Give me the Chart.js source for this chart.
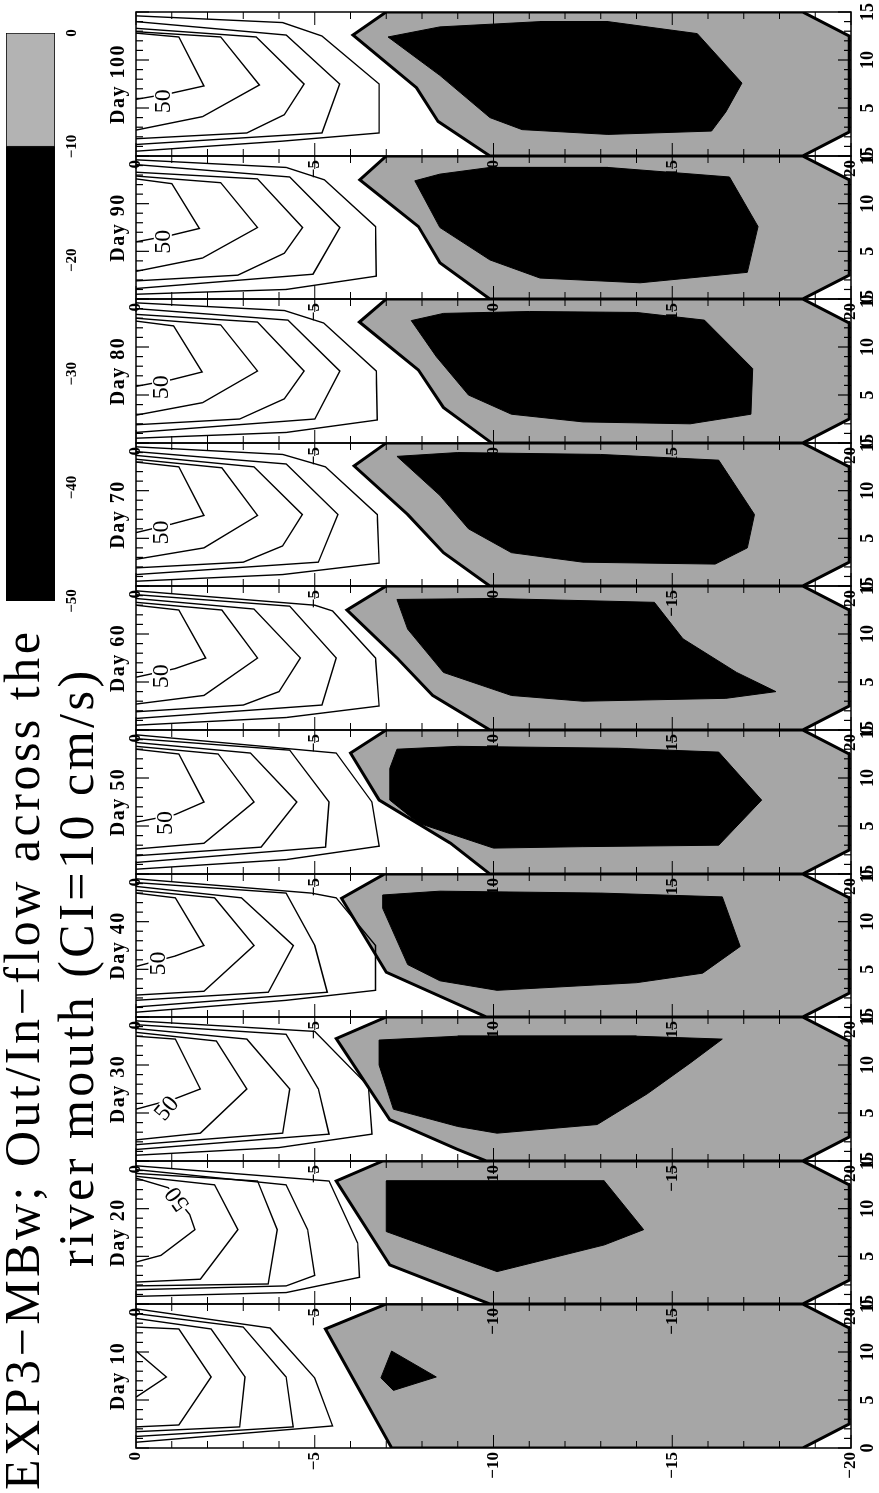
<!DOCTYPE html>
<html>
<head>
<meta charset="utf-8">
<title>EXP3-MBw out/in-flow across the river mouth</title>
<script src="https://cdn.jsdelivr.net/npm/chart.js@4.4.1/dist/chart.umd.min.js"></script>
<style>
  html, body { margin: 0; padding: 0; background: #fff; overflow: hidden; }
  /* the figure is built upright (1493 x 879) and then turned a quarter left */
  #page { position: absolute; left: 0; top: 0; width: 1493px; height: 879px;
          transform-origin: 0 0; transform: translateY(1493px) rotate(-90deg); }
  #page canvas { position: absolute; }
  .title { position: absolute; font-family: 'Liberation Serif', serif; font-size: 50px;
           line-height: 50px; white-space: nowrap; letter-spacing: 3.5px; color: #000; }
</style>
</head>
<body>
<div id="page">
  <div class="title" style="left:3px; top:-3px">EXP3−MBw; Out/In−flow across the</div>
  <div class="title" style="left:226px; top:51px">river mouth (CI=10 cm/s)</div>
  <canvas id="cbar" width="600" height="90" style="left:880px; top:0px"></canvas>
</div>
<script>
// ---- data: points are [cross-channel distance, depth] ----
const days = ['Day 10', 'Day 20', 'Day 30', 'Day 40', 'Day 50', 'Day 60', 'Day 70', 'Day 80', 'Day 90', 'Day 100'];
const crossTicks = [0, 1, 2, 3, 4, 5, 6, 7, 8, 9, 10, 11, 12, 13, 14, 15];
const depthTicks = [0, -1, -2, -3, -4, -5, -6, -7, -8, -9, -10, -11, -12, -13, -14, -15, -16, -17, -18, -19, -20];
const crossLabels = [0, 5, 10, 15];
const depthLabels = [0, -5, -10, -15, -20];
const colorbarTicks = [0, -10, -20, -30, -40, -50];
const colorbarBands = [[-50, -10], [-10, 0]];

// channel bottom (thick line, land below it)
const channelBottom = [[0, -18.65], [2.5, -19.95], [12.5, -19.95], [15, -18.65]];

// zero contour, -10 cm/s area, outflow contours 10..50 (innermost first), "50" label [x, depth, angle]
const zero10 = [[15, -7.0], [12.4, -5.3], [0, -7.15]];
const inflow10 = [[10.1, -7.15], [7.4, -8.4], [6.0, -7.2], [7.3, -6.85]];
const contours10 = [
  [[10.1, 0], [7.4, -0.85], [5.3, 0]],
  [[12.6, 0], [12.4, -1.2], [7.4, -2.1], [2.4, -1.2], [2.2, 0]],
  [[13.5, 0], [12.4, -2.1], [7.4, -3.05], [2.2, -2.9], [1.7, 0]],
  [[14.0, 0], [12.6, -3.0], [7.4, -4.2], [2.2, -4.4], [1.2, 0]],
  [[14.5, 0], [12.5, -3.75], [7.3, -5.0], [2.3, -5.5], [0.6, 0]]
];
const label10 = null;

const zero20 = [[15, -6.9], [12.9, -5.6], [4.1, -7.1], [0, -9.9]];
const inflow20 = [[12.9, -7.0], [12.9, -13.1], [7.8, -14.2], [6.2, -13.1], [3.4, -10.1], [7.6, -7.0]];
const contours20 = [
  [[13.2, 0], [12.2, -0.9], [9.4, -1.5], [7.8, -1.65], [5.1, -0.7], [4.4, 0]],
  [[13.4, 0], [12.5, -2.2], [7.8, -2.85], [2.6, -1.8], [2.3, 0]],
  [[13.7, 0], [12.9, -3.4], [7.8, -3.95], [2.1, -3.7], [1.9, 0]],
  [[14.1, 0], [12.5, -4.2], [7.8, -4.8], [3.0, -5.0], [1.9, -4.2], [1.5, 0]],
  [[14.5, 0], [12.9, -5.4], [6.4, -6.2], [2.8, -6.25], [1.2, -4.2], [0.8, 0]]
];
const label20 = [11.0, -1.15, -35];

const zero30 = [[15, -7.0], [12.75, -5.6], [4.3, -7.1], [1.2, -9.0], [0, -9.8]];
const inflow30 = [[12.6, -6.8], [13.0, -9.0], [13.0, -14.0], [12.7, -16.4], [10.2, -15.5], [7.0, -14.3], [3.8, -12.9], [2.9, -10.1], [3.6, -9.0], [5.4, -7.2], [10.0, -6.8]];
const contours30 = [
  [[13.0, 0], [12.7, -1.1], [7.5, -1.8], [6.5, -1.1], [5.4, 0]],
  [[13.4, 0], [12.5, -2.25], [7.5, -3.1], [2.9, -1.8], [2.2, 0]],
  [[13.8, 0], [12.7, -3.1], [7.5, -4.3], [2.9, -4.1], [1.7, 0]],
  [[14.2, 0], [13.2, -4.2], [7.5, -5.1], [2.8, -5.4], [1.2, 0]],
  [[14.6, 0], [13.5, -5.0], [7.8, -6.5], [2.8, -6.6], [1.4, -4.0], [0.6, 0]]
];
const label30 = [5.5, -0.85, 40];

const zero40 = [[15, -6.95], [12.45, -5.75], [4.7, -7.0], [0, -9.8]];
const inflow40 = [[12.8, -6.9], [13.2, -8.5], [13.0, -13.0], [12.6, -16.4], [7.4, -16.9], [4.6, -15.85], [3.6, -14.0], [2.8, -10.1], [3.8, -8.5], [5.5, -7.6], [11.4, -6.9]];
const contours40 = [
  [[13.0, 0], [12.5, -1.1], [7.5, -1.9], [6.4, -1.1], [5.3, 0]],
  [[13.3, 0], [12.5, -2.2], [7.5, -3.3], [2.7, -1.9], [2.3, 0]],
  [[13.7, 0], [12.5, -2.95], [7.5, -4.4], [2.6, -3.7], [1.75, 0]],
  [[14.1, 0], [13.0, -4.2], [7.5, -5.0], [2.6, -5.35], [1.05, 0]],
  [[14.5, 0], [13.0, -4.9], [12.5, -5.6], [7.5, -6.7], [2.8, -6.7], [1.75, -4.2], [0.5, 0]]
];
const label40 = [5.6, -0.6, 0];

const zero50 = [[15, -7.0], [12.6, -6.0], [7.7, -6.8], [3.2, -8.8], [0, -9.9]];
const inflow50 = [[13.0, -7.3], [13.3, -9.0], [13.1, -13.5], [12.7, -16.3], [7.7, -17.5], [3.0, -16.3], [2.85, -12.5], [2.7, -10.0], [5.3, -7.9], [7.7, -7.1], [11.0, -7.1]];
const contours50 = [
  [[13.0, 0], [12.5, -1.2], [7.5, -1.9], [6.2, -1.1], [5.4, 0]],
  [[13.3, 0], [12.5, -2.3], [7.5, -3.3], [3.2, -1.9], [2.6, 0]],
  [[13.7, 0], [12.6, -3.2], [7.5, -4.5], [2.8, -3.5], [1.9, 0]],
  [[14.1, 0], [12.9, -4.3], [7.5, -5.4], [2.8, -5.3], [1.2, 0]],
  [[14.5, 0], [12.6, -5.6], [7.5, -6.6], [2.9, -6.8], [1.5, -4.2], [0.5, 0]]
];
const label50 = [5.3, -0.8, 0];

const zero60 = [[15, -7.0], [12.5, -5.9], [7.5, -7.3], [3.6, -8.3], [0, -9.9]];
const inflow60 = [[13.6, -7.3], [13.7, -10.0], [13.3, -14.5], [9.5, -15.3], [6.0, -16.8], [4.0, -17.9], [3.3, -16.5], [3.0, -12.5], [3.6, -10.5], [6.0, -8.6], [10.5, -7.6]];
const contours60 = [
  [[13.0, 0], [12.5, -1.2], [7.5, -1.95], [6.4, -1.1], [5.5, 0]],
  [[13.3, 0], [12.5, -2.4], [7.5, -3.4], [3.6, -1.9], [2.7, 0]],
  [[13.7, 0], [12.6, -3.3], [7.5, -4.6], [4.0, -4.0], [2.6, -3.0], [1.9, 0]],
  [[14.1, 0], [12.9, -4.3], [7.5, -5.6], [2.6, -5.2], [1.2, 0]],
  [[14.5, 0], [13.0, -5.0], [12.4, -5.5], [7.5, -6.7], [2.5, -6.8], [1.3, -4.2], [0.5, 0]]
];
const label60 = [5.6, -0.7, 0];

const zero70 = [[15, -7.0], [12.6, -6.1], [7.5, -7.6], [3.5, -8.6], [0, -9.9]];
const inflow70 = [[13.6, -7.3], [14.0, -9.0], [13.8, -13.0], [13.2, -16.3], [7.5, -17.3], [4.0, -17.1], [2.3, -16.2], [2.5, -12.5], [3.5, -10.5], [6.0, -9.3], [9.5, -8.5]];
const contours70 = [
  [[13.0, 0], [12.5, -1.2], [7.4, -1.9], [6.5, -1.0], [5.6, 0]],
  [[13.3, 0], [12.4, -2.4], [7.4, -3.4], [4.0, -1.9], [2.8, 0]],
  [[13.7, 0], [12.5, -3.3], [7.5, -4.65], [4.2, -4.1], [2.5, -3.0], [1.9, 0]],
  [[14.1, 0], [12.8, -4.2], [7.5, -5.65], [2.5, -5.1], [1.2, 0]],
  [[14.6, 0], [13.8, -4.1], [12.5, -5.3], [7.5, -6.75], [2.4, -6.8], [1.2, -4.1], [0.5, 0]]
];
const label70 = [5.6, -0.7, 0];

const zero80 = [[15, -7.0], [12.6, -6.25], [7.6, -7.9], [3.7, -8.6], [0, -9.95]];
const inflow80 = [[12.75, -7.7], [13.5, -8.6], [13.7, -11.0], [13.6, -14.0], [12.8, -15.9], [7.75, -17.25], [3.0, -17.2], [2.0, -15.5], [2.2, -12.5], [3.0, -10.5], [5.0, -9.3], [9.0, -8.4]];
const contours80 = [
  [[12.7, 0], [12.2, -1.05], [7.4, -1.85], [6.6, -1.0], [5.9, 0]],
  [[13.0, 0], [12.3, -2.37], [7.5, -3.4], [4.2, -1.86], [2.9, 0]],
  [[13.4, 0], [12.6, -3.4], [7.5, -4.7], [4.6, -4.15], [2.5, -2.9], [1.9, 0]],
  [[14.0, 0], [12.8, -4.25], [7.5, -5.7], [2.5, -5.0], [1.1, 0]],
  [[14.6, 0], [13.8, -4.15], [12.5, -5.25], [7.5, -6.72], [2.4, -6.75], [1.1, -4.2], [0.5, 0]]
];
const label80 = [5.8, -0.7, 0];

const zero90 = [[15, -7.0], [12.5, -6.26], [7.6, -7.9], [3.8, -8.5], [0, -9.9]];
const inflow90 = [[12.4, -7.8], [13.1, -8.5], [13.8, -9.9], [13.8, -13.2], [12.8, -16.6], [7.6, -17.4], [2.8, -17.1], [1.7, -14.1], [2.2, -11.3], [4.1, -9.9], [7.5, -8.5]];
const contours90 = [
  [[12.6, 0], [12.1, -1.0], [7.4, -1.77], [6.7, -1.0], [6.0, 0]],
  [[12.9, 0], [12.2, -2.37], [7.5, -3.4], [4.3, -1.86], [2.9, 0]],
  [[13.3, 0], [12.6, -3.4], [7.5, -4.66], [4.8, -4.15], [2.5, -2.85], [1.9, 0]],
  [[14.1, 0], [12.8, -4.3], [7.5, -5.7], [2.6, -4.95], [1.1, 0]],
  [[14.6, 0], [13.8, -4.2], [12.5, -5.27], [7.6, -6.7], [2.4, -6.72], [1.0, -4.2], [0.5, 0]]
];
const label90 = [6.0, -0.75, 0];

const zero100 = [[15, -7.0], [12.6, -6.07], [7.1, -7.85], [3.6, -8.45], [0, -9.9]];
const inflow100 = [[12.4, -7.05], [13.45, -8.5], [14.0, -11.3], [14.0, -13.2], [12.75, -15.7], [7.6, -16.95], [4.6, -16.5], [2.6, -16.1], [2.25, -13.2], [2.75, -10.8], [4.0, -9.9], [8.4, -8.5]];
const contours100 = [
  [[12.8, 0], [12.4, -1.2], [7.3, -1.9], [6.55, -1.0], [5.9, 0]],
  [[12.95, 0], [12.4, -2.37], [7.4, -3.45], [4.1, -1.86], [2.7, 0]],
  [[13.3, 0], [12.4, -3.36], [7.5, -4.7], [4.3, -4.15], [2.4, -3.1], [1.8, 0]],
  [[14.0, 0], [12.6, -4.2], [7.5, -5.7], [2.4, -5.2], [1.2, 0]],
  [[14.6, 0], [13.9, -4.1], [12.5, -5.2], [7.5, -6.8], [2.4, -6.8], [1.55, -4.1], [0.5, 0]]
];
const label100 = [5.7, -0.75, 0];

const zeroLines = [zero10, zero20, zero30, zero40, zero50, zero60, zero70, zero80, zero90, zero100];
const inflowAreas = [inflow10, inflow20, inflow30, inflow40, inflow50, inflow60, inflow70, inflow80, inflow90, inflow100];
const outflowContours = [contours10, contours20, contours30, contours40, contours50, contours60, contours70, contours80, contours90, contours100];
const contourLabels = [label10, label20, label30, label40, label50, label60, label70, label80, label90, label100];

// ---- look ----
const FONT = "'Liberation Serif', 'DejaVu Serif', serif";
const GRAY = '#a6a6a6';
const PANEL_X0 = 45, PANEL_W = 143.6, AREA_TOP = 136, AREA_BOTTOM = 851, PAGE_H = 879;
const AXIS_W = 42, PAD_R = 20, XAXIS_H = 28;

const pts = arr => arr.map(p => ({ x: p[0], y: p[1] }));
const minus = v => String(v).replace('-', '\u2212');

// box with inward ticks on all four sides
const framePlugin = {
  id: 'frame',
  afterDatasetsDraw(chart) {
    const { ctx, chartArea: a, scales: { x, y } } = chart;
    ctx.save();
    ctx.strokeStyle = '#000';
    ctx.lineWidth = 1.5;
    ctx.strokeRect(a.left, a.top, a.right - a.left, a.bottom - a.top);
    ctx.lineWidth = 1.2;
    ctx.beginPath();
    crossTicks.forEach(v => {
      const px = x.getPixelForValue(v);
      const len = v % 5 === 0 ? 13 : 7;
      ctx.moveTo(px, a.top); ctx.lineTo(px, a.top + len);
      ctx.moveTo(px, a.bottom); ctx.lineTo(px, a.bottom - len);
    });
    depthTicks.forEach(v => {
      const py = y.getPixelForValue(v);
      const len = v % 5 === 0 ? 13 : 7;
      ctx.moveTo(a.left, py); ctx.lineTo(a.left + len, py);
      ctx.moveTo(a.right, py); ctx.lineTo(a.right - len, py);
    });
    ctx.stroke();
    ctx.restore();
  }
};

// day name over the panel and the "50" contour label
const panelTextPlugin = {
  id: 'panelText',
  afterDraw(chart, args, opts) {
    const { ctx, chartArea: a, scales: { x, y } } = chart;
    ctx.save();
    ctx.fillStyle = '#000';
    ctx.font = 'bold 20px ' + FONT;
    ctx.letterSpacing = '1.5px';
    ctx.textAlign = 'center';
    ctx.textBaseline = 'alphabetic';
    ctx.fillText(opts.day, (a.left + a.right) / 2, a.top - 12);
    ctx.letterSpacing = '0px';
    if (opts.label) {
      const px = x.getPixelForValue(opts.label[0]);
      const py = y.getPixelForValue(opts.label[1]);
      ctx.translate(px, py);
      ctx.rotate(opts.label[2] * Math.PI / 180);
      ctx.font = '24px ' + FONT;
      ctx.textBaseline = 'middle';
      const w = ctx.measureText('50').width;
      ctx.fillStyle = '#fff';
      ctx.fillRect(-w / 2 - 1, -9, w + 2, 18);
      ctx.fillStyle = '#000';
      ctx.fillText('50', 0, 1);
    }
    ctx.restore();
  }
};

const page = document.getElementById('page');

days.forEach((day, i) => {
  const left = Math.round(PANEL_X0 + i * PANEL_W);
  const right = Math.round(PANEL_X0 + (i + 1) * PANEL_W);
  const canvas = document.createElement('canvas');
  canvas.width = AXIS_W + (right - left) + PAD_R;
  canvas.height = PAGE_H;
  canvas.style.left = (left - AXIS_W) + 'px';
  canvas.style.top = '0px';
  page.appendChild(canvas);

  const grayShape = zeroLines[i].concat([[0, channelBottom[0][1]]], channelBottom, [zeroLines[i][0]]);
  const datasets = [];
  outflowContours[i].forEach(line => {
    datasets.push({ data: pts(line), borderColor: '#000', borderWidth: 1.4, pointRadius: 0, tension: 0, fill: false, order: 0 });
  });
  datasets.push({ data: pts(inflowAreas[i].concat([inflowAreas[i][0]])), borderColor: '#000', borderWidth: 1,
                  backgroundColor: '#000', fill: 'shape', pointRadius: 0, tension: 0, order: 1 });
  datasets.push({ data: pts(grayShape), borderColor: '#000', borderWidth: 3, backgroundColor: GRAY,
                  fill: 'shape', pointRadius: 0, tension: 0, order: 2 });

  new Chart(canvas, {
    type: 'line',
    data: { datasets },
    options: {
      responsive: false, animation: false, events: [],
      layout: { padding: { left: 0, right: PAD_R, top: AREA_TOP, bottom: PAGE_H - AREA_BOTTOM - XAXIS_H } },
      plugins: { legend: { display: false }, tooltip: { enabled: false },
                 panelText: { day: day, label: contourLabels[i] } },
      scales: {
        x: {
          type: 'linear', min: 0, max: 15,
          afterBuildTicks: s => { s.ticks = crossLabels.map(v => ({ value: v })); },
          afterFit: s => { s.height = XAXIS_H; },
          ticks: { color: '#000', padding: 7, maxRotation: 0, autoSkip: false,
                   font: { family: FONT, size: 18, weight: 'bold' } },
          grid: { display: false, drawTicks: false }, border: { display: false }
        },
        y: {
          type: 'linear', min: -20, max: 0,
          afterBuildTicks: s => { s.ticks = depthLabels.map(v => ({ value: v })); },
          afterFit: s => { s.width = AXIS_W; },
          ticks: { color: '#000', padding: 4, autoSkip: false, callback: v => minus(v),
                   font: { family: FONT, size: 17, weight: 'bold' } },
          grid: { display: false, drawTicks: false }, border: { display: false }
        }
      }
    },
    plugins: [framePlugin, panelTextPlugin]
  });
});

// colour bar: gray 0..-10, black -10..-50
new Chart(document.getElementById('cbar'), {
  type: 'bar',
  data: {
    labels: [''],
    datasets: [
      { data: [colorbarBands[0]], backgroundColor: '#000', borderColor: '#000', borderWidth: 1,
        borderSkipped: false, grouped: false, barPercentage: 1, categoryPercentage: 1 },
      { data: [colorbarBands[1]], backgroundColor: '#b3b3b3', borderColor: '#000', borderWidth: 1,
        borderSkipped: false, grouped: false, barPercentage: 1, categoryPercentage: 1 }
    ]
  },
  options: {
    indexAxis: 'y', responsive: false, animation: false, events: [],
    layout: { padding: { left: 12, right: 20, top: 6, bottom: 0 } },
    plugins: { legend: { display: false }, tooltip: { enabled: false } },
    scales: {
      x: {
        type: 'linear', min: -50, max: 0,
        afterBuildTicks: s => { s.ticks = colorbarTicks.map(v => ({ value: v })); },
        afterFit: s => { s.height = 35; },
        ticks: { color: '#000', padding: 8, maxRotation: 0, autoSkip: false, callback: v => minus(v),
                 font: { family: FONT, size: 15, weight: 'bold' } },
        grid: { display: false, drawTicks: false }, border: { display: false }
      },
      y: { display: false }
    }
  }
});
</script>
</body>
</html>
